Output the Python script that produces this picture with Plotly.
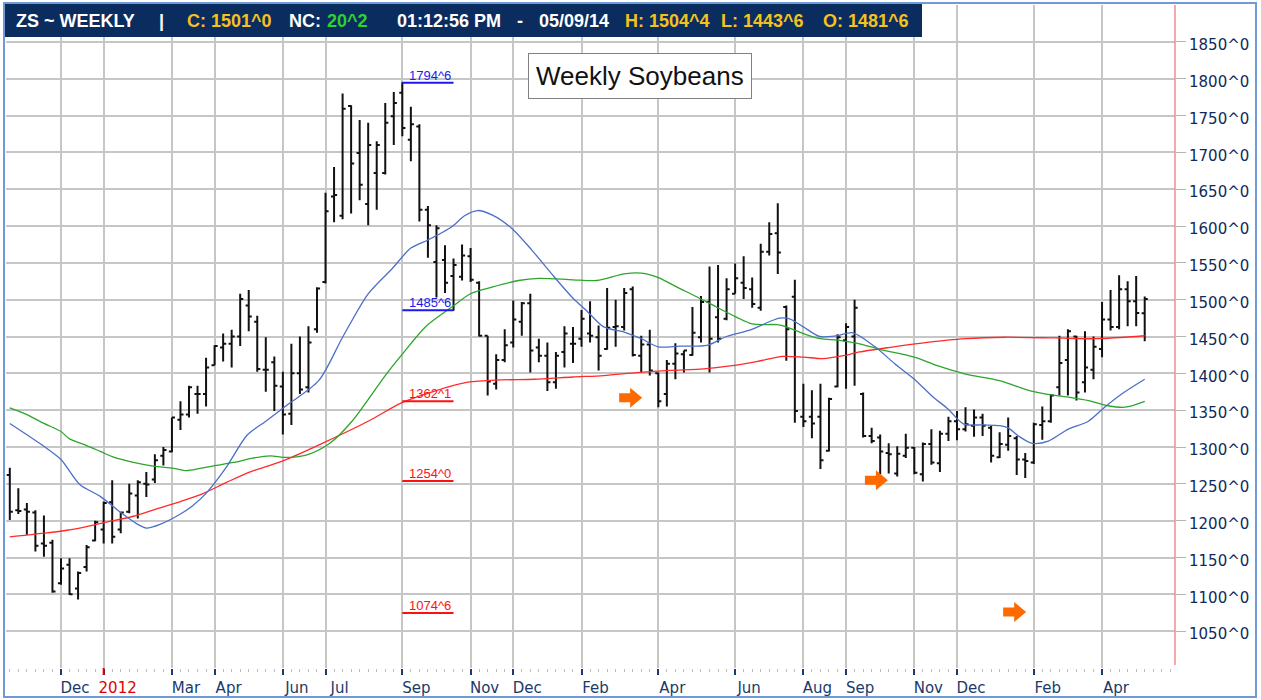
import pandas as pd
import plotly.graph_objects as go

# ---------------- data ----------------
start_date = "2011-10-21"  # first weekly bar (Friday)

opens = [1262, 1214, 1215, 1211, 1169, 1170, 1115, 1140, 1108, 1137,
         1173, 1188, 1225, 1188, 1212, 1234, 1250, 1256, 1288, 1294,
         1337, 1344, 1372, 1372, 1411, 1435, 1440, 1450, 1492, 1470,
         1405, 1415, 1382, 1345, 1400, 1381, 1460, 1524, 1640, 1614,
         1763, 1699, 1630, 1672, 1672, 1749, 1781, 1717, 1735, 1622,
         1551, 1554, 1532, 1531, 1559, 1523, 1451, 1386, 1418, 1442,
         1470, 1495, 1435, 1424, 1388, 1429, 1440, 1447, 1454, 1449,
         1433, 1463, 1463, 1514, 1424, 1439, 1400, 1372, 1413, 1426,
         1425, 1449, 1497, 1476, 1474, 1508, 1523, 1514, 1489, 1565,
         1590, 1490, 1504, 1341, 1341, 1341, 1295, 1382, 1445, 1450,
         1372, 1315, 1313, 1292, 1264, 1288, 1299, 1263, 1304, 1278,
         1318, 1335, 1324, 1329, 1340, 1326, 1286, 1303, 1312, 1283,
         1279, 1330, 1335, 1381, 1418, 1450, 1388, 1405, 1433, 1473,
         1463, 1514, 1498, 1481.6]
highs = [1272, 1244, 1224, 1214, 1207, 1174, 1149, 1149, 1131, 1167,
         1200, 1226, 1255, 1212, 1250, 1255, 1266, 1290, 1300, 1340,
         1362, 1383, 1383, 1421, 1438, 1454, 1459, 1508, 1513, 1478,
         1449, 1423, 1402, 1440, 1450, 1464, 1517, 1645, 1680, 1780,
         1764, 1744, 1740, 1715, 1767, 1782, 1795, 1762, 1738, 1627,
         1601, 1574, 1556, 1575, 1570, 1525, 1451, 1426, 1460, 1499,
         1497, 1508, 1447, 1442, 1429, 1464, 1463, 1486, 1498, 1465,
         1516, 1500, 1516, 1518, 1451, 1459, 1401, 1418, 1441, 1431,
         1490, 1505, 1545, 1547, 1529, 1549, 1559, 1530, 1576, 1605,
         1631, 1492, 1527, 1386, 1377, 1386, 1367, 1453, 1468, 1500,
         1374, 1326, 1317, 1305, 1301, 1318, 1300, 1306, 1324, 1322,
         1341, 1349, 1354, 1351, 1345, 1329, 1320, 1340, 1315, 1292,
         1333, 1355, 1372, 1451, 1460, 1451, 1457, 1450, 1497, 1513,
         1533, 1525, 1532, 1504.4]
lows = [1201, 1209, 1181, 1158, 1151, 1102, 1113, 1099, 1093, 1131,
        1172, 1169, 1169, 1183, 1210, 1203, 1232, 1251, 1275, 1293,
        1323, 1340, 1345, 1355, 1411, 1416, 1408, 1437, 1457, 1402,
        1375, 1349, 1317, 1330, 1372, 1374, 1455, 1522, 1605, 1609,
        1617, 1635, 1601, 1622, 1670, 1710, 1722, 1688, 1606, 1557,
        1503, 1509, 1485, 1526, 1524, 1450, 1370, 1378, 1415, 1435,
        1451, 1401, 1415, 1376, 1379, 1408, 1414, 1436, 1442, 1404,
        1432, 1436, 1458, 1423, 1401, 1397, 1354, 1355, 1392, 1401,
        1424, 1442, 1401, 1442, 1472, 1508, 1501, 1489, 1485, 1560,
        1535, 1417, 1333, 1327, 1312, 1270, 1294, 1381, 1379, 1383,
        1313, 1305, 1263, 1264, 1260, 1285, 1263, 1253, 1276, 1266,
        1308, 1309, 1321, 1314, 1315, 1279, 1285, 1295, 1262, 1258,
        1277, 1310, 1333, 1370, 1370, 1363, 1374, 1392, 1422, 1458,
        1460, 1464, 1464, 1443.6]
closes = [1212, 1213, 1212, 1166, 1166, 1104, 1135, 1100, 1129, 1164,
          1198, 1224, 1178, 1211, 1237, 1252, 1249, 1282, 1296, 1340,
          1344, 1381, 1372, 1408, 1437, 1440, 1450, 1501, 1477, 1406,
          1405, 1383, 1344, 1400, 1378, 1442, 1515, 1620, 1642, 1759,
          1685, 1656, 1710, 1710, 1740, 1767, 1733, 1738, 1622, 1601,
          1597, 1523, 1547, 1560, 1527, 1451, 1389, 1418, 1438, 1473,
          1495, 1431, 1424, 1388, 1424, 1454, 1440, 1474, 1451, 1424,
          1462, 1464, 1509, 1425, 1439, 1404, 1362, 1413, 1427, 1431,
          1455, 1497, 1447, 1447, 1514, 1529, 1516, 1494, 1565, 1589,
          1564, 1460, 1349, 1335, 1332, 1282, 1365, 1449, 1463, 1489,
          1315, 1308, 1294, 1290, 1291, 1299, 1265, 1304, 1279, 1318,
          1335, 1324, 1331, 1340, 1329, 1288, 1304, 1315, 1283, 1281,
          1331, 1335, 1370, 1414, 1457, 1374, 1408, 1436, 1473, 1463,
          1514, 1498, 1482, 1501.0]

# moving averages (bar index, value)
blue_idx = [0, 4, 6, 8.2, 10.6, 13, 15, 16, 17.6, 20, 21.5, 23, 25.4, 27.8, 30,
            32.5, 36.2, 39, 42, 44.8, 47, 49, 51.8, 53.3, 54.8, 56.5, 58.8, 61.2,
            63.5, 66, 67.6, 69.6, 72, 74, 76, 78.5, 81.7, 84, 86.8, 89, 90.2, 91.4,
            93, 94.9, 96.9, 98.8, 101.4, 103.7, 106, 108, 110, 111.8, 114, 116, 117,
            118.2, 119.8, 121.7, 124, 126.4, 128.3, 130.3, 133]
blue_val = [1332, 1301, 1283, 1249, 1233, 1211, 1195, 1190, 1195, 1209, 1221, 1237,
            1273, 1316, 1335, 1357, 1390, 1449, 1508, 1542, 1570, 1581, 1599, 1614,
            1621, 1615, 1597, 1567, 1535, 1502, 1485, 1463, 1456, 1447, 1436, 1437,
            1438, 1450, 1459, 1470, 1475, 1474, 1463, 1450, 1451, 1455, 1436, 1413,
            1392, 1370, 1351, 1331, 1330, 1329, 1326, 1315, 1305, 1308, 1324, 1335,
            1354, 1372, 1392]
green_idx = [0, 2, 4, 6, 7, 9, 10.6, 12, 14.5, 16.8, 19.2, 20.7, 22.3, 24.2, 26.2,
             28.5, 30.5, 32, 33, 35, 37.5, 40.1, 44, 46, 48.7, 51.8, 54, 56.5, 59.6,
             62, 66, 68.8, 72, 74, 76, 78.2, 80.5, 82.8, 85.2, 87, 89.9, 91, 93, 95,
             97, 99.2, 102.2, 106, 108.8, 112, 116, 119.7, 122.5, 124.4, 126.4, 128.7,
             130.7, 133]
green_val = [1353, 1344, 1332, 1321, 1311, 1302, 1294, 1287, 1279, 1274, 1271, 1268,
             1271, 1275, 1279, 1285, 1288, 1286, 1286, 1290, 1305, 1335, 1397, 1426,
             1463, 1490, 1508, 1517, 1526, 1529, 1527, 1526, 1535, 1536, 1530, 1517,
             1504, 1490, 1476, 1467, 1466, 1463, 1454, 1447, 1445, 1441, 1432, 1422,
             1410, 1399, 1390, 1376, 1370, 1367, 1363, 1356, 1354, 1362]
red_idx = [0, 4, 6.7, 9, 11.3, 14.5, 17.2, 20, 22.7, 25.4, 28.1, 30.5, 32.8, 37, 42,
           45.9, 49.8, 53.7, 57.6, 61.5, 66, 69.6, 73.5, 77.4, 81.3, 84.4, 87.5, 90.6,
           93, 95.3, 97.7, 99.6, 103, 106.9, 112, 116.6, 122.5, 127.2, 133]
red_val = [1178, 1183, 1187, 1192, 1198, 1206, 1216, 1226, 1237, 1252, 1266, 1275,
           1285, 1307, 1335, 1360, 1376, 1388, 1391, 1392, 1395, 1397, 1401, 1404,
           1406, 1410, 1416, 1423, 1422, 1420, 1424, 1429, 1435, 1441, 1447, 1449,
           1448, 1447, 1451]

# Fibonacci levels
fib_values = [1794.6, 1485.6, 1362.1, 1254.0, 1074.6]
fib_labels = ["1794^6", "1485^6", "1362^1", "1254^0", "1074^6"]
fib_colors = ["#1a1aee", "#1a1aee", "#ff1010", "#ff1010", "#ff1010"]
fib_start_bar, fib_end_bar = 46, 52

# orange arrows (bar index, price)
arrow_idx = [72.7, 101.5, 117.7]
arrow_val = [1367, 1255, 1076]

# axis ticks
tick_dates = ["2011-12-02", "2012-01-06", "2012-03-02", "2012-04-06", "2012-06-01",
              "2012-07-06", "2012-09-07", "2012-11-02", "2012-12-07", "2013-02-01",
              "2013-04-05", "2013-06-07", "2013-08-02", "2013-09-06", "2013-11-01",
              "2013-12-06", "2014-02-07", "2014-04-04"]
tick_labels = ["Dec", "2012", "Mar", "Apr", "Jun", "Jul", "Sep", "Nov", "Dec", "Feb",
               "Apr", "Jun", "Aug", "Sep", "Nov", "Dec", "Feb", "Apr"]
price_ticks = list(range(1050, 1851, 50))
price_labels = [f"{v}^0" for v in price_ticks]

header_items = [("ZS ~ WEEKLY", "white"), ("|", "white"), ("C: 1501^0", "#f4c21c"),
                ("NC:", "white"), ("20^2", "#2fd02f"), ("01:12:56 PM", "white"),
                ("-", "white"), ("05/09/14", "white"), ("H: 1504^4", "#f4c21c"),
                ("L: 1443^6", "#f4c21c"), ("O: 1481^6", "#f4c21c")]
header_px = [14, 157, 185, 287, 325, 395, 515, 537, 623, 719, 821]

# ---------------- figure ----------------
dates = pd.date_range(start_date, periods=len(opens), freq="7D")


def at(k):
    return dates[0] + pd.Timedelta(days=7 * k)


W, H = 1261, 700
ML, MR, MT, MB = 6, 86, 5, 32
PW, PH = W - ML - MR, H - MT - MB


def px(x):
    return (x - ML) / PW


def py(y):
    return (H - MB - y) / PH


fig = go.Figure()
fig.add_trace(go.Ohlc(x=dates, open=opens, high=highs, low=lows, close=closes,
                      increasing=dict(line=dict(color="#111111", width=2)),
                      decreasing=dict(line=dict(color="#111111", width=2)),
                      tickwidth=0.36, hoverinfo="skip"))
for xs, ys, col in [(red_idx, red_val, "#ff2a2a"), (green_idx, green_val, "#2ca52c"),
                    (blue_idx, blue_val, "#4a70c8")]:
    fig.add_trace(go.Scatter(x=[at(k) for k in xs], y=ys, mode="lines",
                             line=dict(color=col, width=1.3, shape="spline", smoothing=0.8),
                             hoverinfo="skip"))

shapes = []
annotations = []
# header bar
shapes.append(dict(type="rect", xref="paper", yref="paper", x0=px(4), x1=px(922),
                   y0=py(37), y1=py(3), fillcolor="#0b2c5e", line=dict(width=0), layer="above"))
# frame
shapes.append(dict(type="rect", xref="paper", yref="paper", x0=px(4), x1=px(1256),
                   y0=py(697), y1=py(3), line=dict(color="#6f9ad6", width=2), layer="above"))
# red right boundary line
shapes.append(dict(type="line", xref="paper", yref="paper", x0=1, x1=1, y0=py(665), y1=py(5),
                   line=dict(color="#f28c8c", width=1.5), layer="above"))
# red year tick
shapes.append(dict(type="line", xref="x", yref="paper", x0=tick_dates[1], x1=tick_dates[1],
                   y0=py(675), y1=0, line=dict(color="#e00000", width=2), layer="above"))
# fib lines + labels
for v, lab, col in zip(fib_values, fib_labels, fib_colors):
    shapes.append(dict(type="line", xref="x", yref="y", x0=dates[fib_start_bar],
                       x1=dates[fib_end_bar], y0=v, y1=v, line=dict(color=col, width=2)))
    annotations.append(dict(x=dates[fib_start_bar], y=v, xref="x", yref="y", text=lab,
                            showarrow=False, xanchor="left", yanchor="bottom", xshift=5,
                            yshift=-2, font=dict(family="Liberation Sans, Arial", size=13, color=col)))
# orange arrows
arrow_path = "M-11,-4.5 L0,-4.5 L0,-10 L12,0 L0,10 L0,4.5 L-11,4.5 Z"
for k, v in zip(arrow_idx, arrow_val):
    shapes.append(dict(type="path", xref="x", yref="y", xsizemode="pixel", ysizemode="pixel",
                       xanchor=at(k), yanchor=v, path=arrow_path, fillcolor="#ff6a00",
                       line=dict(width=0)))
# title box
annotations.append(dict(x=px(640), y=py(76), xref="paper", yref="paper", text="Weekly Soybeans",
                        showarrow=False, xanchor="center", yanchor="middle",
                        font=dict(family="Liberation Sans, Arial", size=26, color="#111111"),
                        bgcolor="white", bordercolor="#808080", borderwidth=1, borderpad=7))
# header texts
for (txt, col), xp in zip(header_items, header_px):
    annotations.append(dict(x=px(xp), y=py(21), xref="paper", yref="paper", text=f"<b>{txt}</b>",
                            showarrow=False, xanchor="left", yanchor="middle",
                            font=dict(family="Liberation Sans, Arial", size=18, color=col)))

ticktext = [f'<span style="color:#e00000">{t}</span>' if i == 1 else t
            for i, t in enumerate(tick_labels)]

fig.update_layout(
    width=W, height=H, margin=dict(l=ML, r=MR, t=MT, b=MB, autoexpand=False),
    paper_bgcolor="white", plot_bgcolor="white", showlegend=False,
    shapes=shapes, annotations=annotations,
    xaxis=dict(type="date", range=[at(-0.445), at(136.55)], tickmode="array",
               tickvals=tick_dates, ticktext=ticktext, automargin=False,
               tickfont=dict(family="DejaVu Sans", size=15, color="#1b3a6b"),
               ticks="outside", ticklen=6, tickwidth=2, tickcolor="#1b3a6b",
               showgrid=True, gridcolor="#c6c6c6", gridwidth=1.5, zeroline=False,
               showline=False, rangeslider=dict(visible=False), ticklabelshift=14,
               minor=dict(ticks="outside", ticklen=3, tickwidth=1, tickcolor="#bdbdbd",
                          dtick=7 * 86400000, tick0=dates[0], showgrid=False)),
    yaxis=dict(side="right", range=[1000, 1900], tickmode="array", tickvals=price_ticks,
               ticktext=price_labels, automargin=False,
               tickfont=dict(family="DejaVu Sans", size=15, color="#0f2b5b"),
               ticks="outside", ticklen=10, tickcolor="#b4b4b4", showgrid=True,
               gridcolor="#c6c6c6", gridwidth=1.5, zeroline=False, showline=False,
               ticklabelshift=3),
)

fig.write_html("out.html", config={"displayModeBar": False},
               post_script="document.body.style.margin='0';document.body.style.overflow='hidden';")
